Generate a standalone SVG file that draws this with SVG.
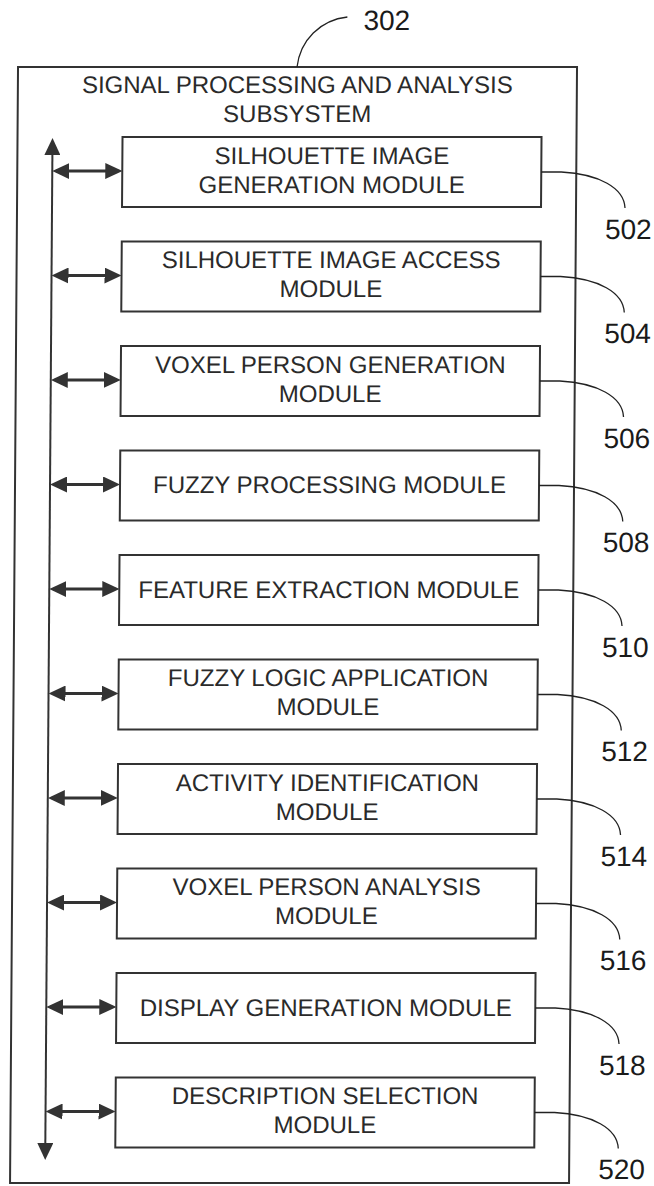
<svg xmlns="http://www.w3.org/2000/svg" width="654" height="1186" viewBox="0 0 654 1186">
<style>
.box{fill:#fff;stroke:#333;stroke-width:2}
.outer{fill:#fff;stroke:#333;stroke-width:2}
.t{font-family:"Liberation Sans",Arial,sans-serif;font-size:24px;fill:#2a2a2a;text-anchor:middle}
.lbl{font-family:"Liberation Sans",Arial,sans-serif;font-size:28px;fill:#1a1a1a;text-anchor:middle}
.lead{fill:none;stroke:#222;stroke-width:1.3}
.arr{fill:none;stroke:#333;stroke-width:3;marker-start:url(#ah);marker-end:url(#ah)}
.bus{fill:none;stroke:#333;stroke-width:2;marker-start:url(#ah);marker-end:url(#ah)}
</style>
<defs>
<marker id="ah" viewBox="0 0 17 16" refX="13" refY="8" markerWidth="17" markerHeight="16" markerUnits="userSpaceOnUse" orient="auto-start-reverse">
<path d="M0,0 L17,8 L0,16 z" fill="#333"/>
</marker>
</defs>
<rect width="654" height="1186" fill="#fff"/>
<g transform="translate(0.5,0) skewX(-0.41)">
<g id="subsystem">
<rect class="outer" x="18" y="67" width="559" height="1116"/>
<text class="t" x="297.5" y="93">SIGNAL PROCESSING AND ANALYSIS</text>
<text class="t" x="297.5" y="122">SUBSYSTEM</text>
<path class="lead" d="M297,67 C300,40 320,20 347,17"/>
<text class="lbl" x="386.5" y="30">302</text>
</g>
<g id="connectors">
<line class="bus" x1="53" y1="142" x2="53" y2="1156"/>
<line class="arr" x1="57" y1="171" x2="119" y2="171"/>
<line class="arr" x1="57" y1="275.5" x2="119" y2="275.5"/>
<line class="arr" x1="57" y1="380" x2="119" y2="380"/>
<line class="arr" x1="57" y1="484.5" x2="119" y2="484.5"/>
<line class="arr" x1="57" y1="589" x2="119" y2="589"/>
<line class="arr" x1="57" y1="693.5" x2="119" y2="693.5"/>
<line class="arr" x1="57" y1="798" x2="119" y2="798"/>
<line class="arr" x1="57" y1="902.5" x2="119" y2="902.5"/>
<line class="arr" x1="57" y1="1007" x2="119" y2="1007"/>
<line class="arr" x1="57" y1="1111.5" x2="119" y2="1111.5"/>
</g>
<g id="m502">
<rect class="box" x="123" y="137" width="419" height="70"/>
<text class="t" x="332.5" y="164">SILHOUETTE IMAGE</text>
<text class="t" x="332.5" y="193">GENERATION MODULE</text>
<path class="lead" d="M542,172 L562,172 C600,174 625,188 626,208"/>
<text class="lbl" x="629.5" y="239">502</text>
</g>
<g id="m504">
<rect class="box" x="123" y="241.5" width="419" height="70"/>
<text class="t" x="332.5" y="268.5">SILHOUETTE IMAGE ACCESS</text>
<text class="t" x="332.5" y="297.5">MODULE</text>
<path class="lead" d="M542,276.5 L562,276.5 C600,278.5 625,292.5 626,312.5"/>
<text class="lbl" x="629.5" y="343.5">504</text>
</g>
<g id="m506">
<rect class="box" x="123" y="346" width="419" height="70"/>
<text class="t" x="332.5" y="373">VOXEL PERSON GENERATION</text>
<text class="t" x="332.5" y="402">MODULE</text>
<path class="lead" d="M542,381 L562,381 C600,383 625,397 626,417"/>
<text class="lbl" x="629.5" y="448">506</text>
</g>
<g id="m508">
<rect class="box" x="123" y="450.5" width="419" height="70"/>
<text class="t" x="332.5" y="493.5">FUZZY PROCESSING MODULE</text>
<path class="lead" d="M542,485.5 L562,485.5 C600,487.5 625,501.5 626,521.5"/>
<text class="lbl" x="629.5" y="552.5">508</text>
</g>
<g id="m510">
<rect class="box" x="123" y="555" width="419" height="70"/>
<text class="t" x="332.5" y="598">FEATURE EXTRACTION MODULE</text>
<path class="lead" d="M542,590 L562,590 C600,592 625,606 626,626"/>
<text class="lbl" x="629.5" y="657">510</text>
</g>
<g id="m512">
<rect class="box" x="123" y="659.5" width="419" height="70"/>
<text class="t" x="332.5" y="686.5">FUZZY LOGIC APPLICATION</text>
<text class="t" x="332.5" y="715.5">MODULE</text>
<path class="lead" d="M542,694.5 L562,694.5 C600,696.5 625,710.5 626,730.5"/>
<text class="lbl" x="629.5" y="761.5">512</text>
</g>
<g id="m514">
<rect class="box" x="123" y="764" width="419" height="70"/>
<text class="t" x="332.5" y="791">ACTIVITY IDENTIFICATION</text>
<text class="t" x="332.5" y="820">MODULE</text>
<path class="lead" d="M542,799 L562,799 C600,801 625,815 626,835"/>
<text class="lbl" x="629.5" y="866">514</text>
</g>
<g id="m516">
<rect class="box" x="123" y="868.5" width="419" height="70"/>
<text class="t" x="332.5" y="895.5">VOXEL PERSON ANALYSIS</text>
<text class="t" x="332.5" y="924.5">MODULE</text>
<path class="lead" d="M542,903.5 L562,903.5 C600,905.5 625,919.5 626,939.5"/>
<text class="lbl" x="629.5" y="970.5">516</text>
</g>
<g id="m518">
<rect class="box" x="123" y="973" width="419" height="70"/>
<text class="t" x="332.5" y="1016">DISPLAY GENERATION MODULE</text>
<path class="lead" d="M542,1008 L562,1008 C600,1010 625,1024 626,1044"/>
<text class="lbl" x="629.5" y="1075">518</text>
</g>
<g id="m520">
<rect class="box" x="123" y="1077.5" width="419" height="70"/>
<text class="t" x="332.5" y="1104.5">DESCRIPTION SELECTION</text>
<text class="t" x="332.5" y="1133.5">MODULE</text>
<path class="lead" d="M542,1112.5 L562,1112.5 C600,1114.5 625,1128.5 626,1148.5"/>
<text class="lbl" x="629.5" y="1179.5">520</text>
</g>
</g>
</svg>
